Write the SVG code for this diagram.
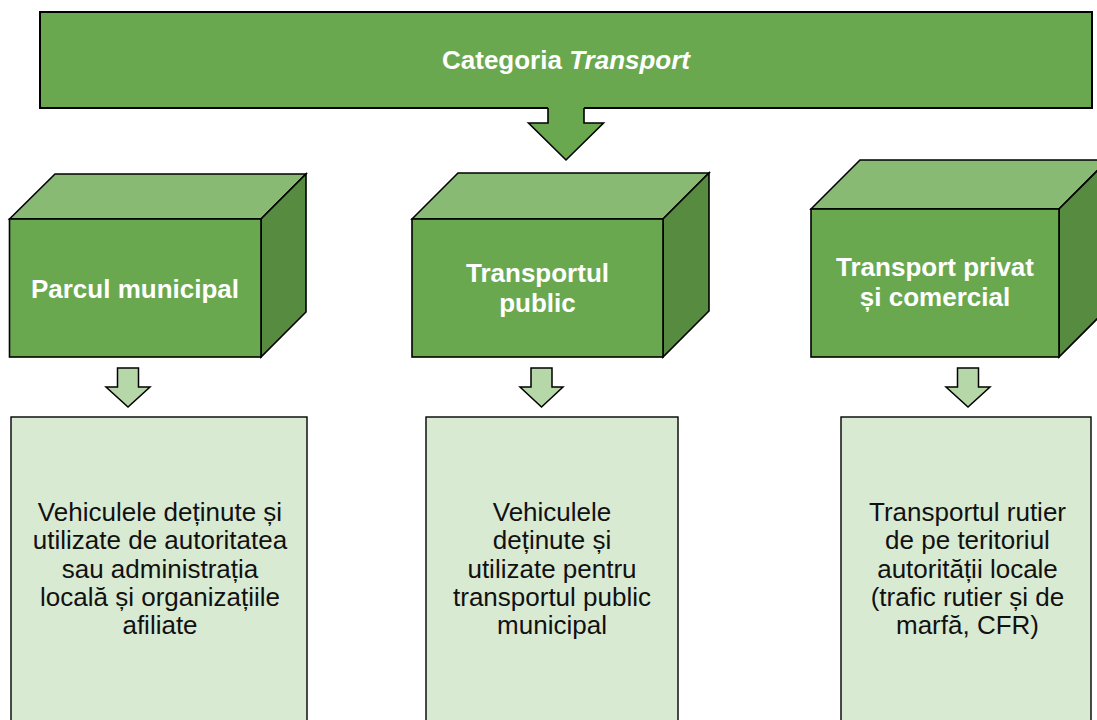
<svg xmlns="http://www.w3.org/2000/svg" width="1097" height="720" viewBox="0 0 1097 720">
  <style>
    .banner { fill: #6aa84f; stroke: #000; stroke-width: 2; }
    .front { fill: #6aa84f; stroke: #000; stroke-width: 1.6; stroke-linejoin: miter; }
    .top { fill: #89ba73; stroke: #000; stroke-width: 1.6; stroke-linejoin: miter; }
    .side { fill: #578b40; stroke: #000; stroke-width: 1.6; stroke-linejoin: miter; }
    .panel { fill: #d9ead3; stroke: #000; stroke-width: 1.4; }
    .small-arrow { fill: #b6d7a8; stroke: #000; stroke-width: 1.5; stroke-linejoin: miter; }
    .big-fill { fill: #6aa84f; stroke: none; }
    .big-line { fill: none; stroke: #000; stroke-width: 1.6; stroke-linejoin: miter; }
    .head { font-family: "Liberation Sans", Arial, sans-serif; font-weight: bold; font-size: 26px; fill: #ffffff; text-anchor: middle; }
    .body { font-family: "Liberation Sans", Arial, sans-serif; font-size: 26px; fill: #111111; text-anchor: middle; }
  </style>

  <rect width="1097" height="720" fill="#ffffff"/>

  <!-- title banner -->
  <g id="node-category">
    <rect class="banner" x="40" y="12" width="1052" height="96"/>
    <text class="head" x="566" y="69">Categoria <tspan font-style="italic">Transport</tspan></text>
  </g>

  <!-- block arrows -->
  <g id="connectors">
    <polygon class="big-fill" points="548,107 584,107 584,123 603.5,123 566,160 528.5,123 548,123"/>
    <path class="big-line" d="M548,108 V123 H528.5 L566,160 L603.5,123 H584 V108"/>
    <polygon class="small-arrow" points="117.5,368 138.5,368 138.5,387 150,387 128,407 106,387 117.5,387"/>
    <polygon class="small-arrow" points="531,368 552,368 552,387 563,387 541.5,407 520,387 531,387"/>
    <polygon class="small-arrow" points="957.5,368 978.5,368 978.5,387 990,387 968,407 946,387 957.5,387"/>
  </g>

  <!-- category boxes -->
  <g id="node-parcul">
    <polygon class="top" points="9.5,219 55,174 306,174 261,219"/>
    <polygon class="side" points="261,219 306,174 306,312 261,357"/>
    <rect class="front" x="9.5" y="219" width="251.5" height="138"/>
    <text class="head" x="135" y="297.5">Parcul municipal</text>
  </g>

  <g id="node-public">
    <polygon class="top" points="412,219 458,173 709,173 663,219"/>
    <polygon class="side" points="663,219 709,173 709,311 663,357"/>
    <rect class="front" x="412" y="219" width="251" height="138"/>
    <text class="head" x="537.5" y="281.5">Transportul</text>
    <text class="head" x="537.5" y="311.5">public</text>
  </g>

  <g id="node-privat">
    <polygon class="top" points="811,209 860,160 1108,160 1059,209"/>
    <polygon class="side" points="1059,209 1108,160 1108,308 1059,357"/>
    <rect class="front" x="811" y="209" width="248" height="148"/>
    <text class="head" x="935" y="276">Transport privat</text>
    <text class="head" x="935" y="306">și comercial</text>
  </g>

  <!-- description panels -->
  <g id="node-desc-parcul">
    <rect class="panel" x="11" y="417" width="296" height="320"/>
    <text class="body" x="160" y="521">Vehiculele deținute și</text>
    <text class="body" x="160" y="549.3">utilizate de autoritatea</text>
    <text class="body" x="160" y="577.6">sau administrația</text>
    <text class="body" x="160" y="605.9">locală și organizațiile</text>
    <text class="body" x="160" y="634.2">afiliate</text>
  </g>

  <g id="node-desc-public">
    <rect class="panel" x="426" y="417" width="252" height="320"/>
    <text class="body" x="552" y="521">Vehiculele</text>
    <text class="body" x="552" y="549.3">deținute și</text>
    <text class="body" x="552" y="577.6">utilizate pentru</text>
    <text class="body" x="552" y="605.9">transportul public</text>
    <text class="body" x="552" y="634.2">municipal</text>
  </g>

  <g id="node-desc-privat">
    <rect class="panel" x="841" y="417" width="250" height="320"/>
    <text class="body" x="967.5" y="521">Transportul rutier</text>
    <text class="body" x="967.5" y="549.3">de pe teritoriul</text>
    <text class="body" x="967.5" y="577.6">autorității locale</text>
    <text class="body" x="967.5" y="605.9">(trafic rutier și de</text>
    <text class="body" x="967.5" y="634.2">marfă, CFR)</text>
  </g>
</svg>
